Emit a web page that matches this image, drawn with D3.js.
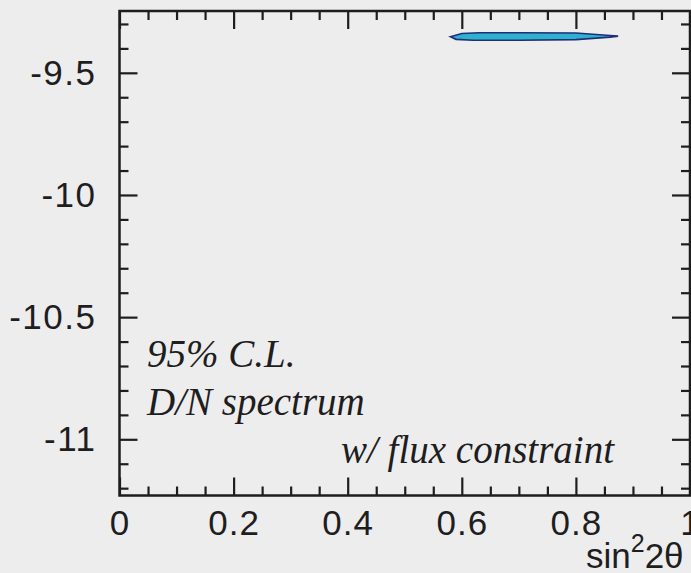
<!DOCTYPE html>
<html>
<head>
<meta charset="utf-8">
<script src="https://cdn.jsdelivr.net/npm/d3@7"></script>
<style>
html,body{margin:0;padding:0;background:#eeedee;}
svg{display:block;}
</style>
</head>
<body>
<svg id="chart" width="691" height="573"></svg>
<script>
// ---- data ----
const xDomain = [0, 1];
const yDomain = [-11.23, -9.247];
const xMajorTicks = [0, 0.2, 0.4, 0.6, 0.8, 1];
const xTickLabels = ["0", "0.2", "0.4", "0.6", "0.8", "1"];
const yMajorTicks = [-9.5, -10, -10.5, -11];
const yTickLabels = ["-9.5", "-10", "-10.5", "-11"];
// 95% C.L. contour (sin^2 2theta, log10 dm^2)
const contourX = [0.580, 0.600, 0.630, 0.700, 0.800, 0.830, 0.860, 0.874, 0.860, 0.830, 0.800, 0.700, 0.620, 0.590, 0.580];
const contourY = [-9.352, -9.339, -9.336, -9.336, -9.337, -9.342, -9.347, -9.350, -9.354, -9.359, -9.364, -9.367, -9.367, -9.363, -9.352];
const annotations = ["95% C.L.", "D/N spectrum", "w/ flux constraint"];

// ---- drawing ----
const svg = d3.select("#chart");
const x = d3.scaleLinear().domain(xDomain).range([119.5, 690]);
const y = d3.scaleLinear().domain(yDomain).range([495.5, 11]);
const ink = "#1e1e1e";

svg.append("rect").attr("width", 691).attr("height", 573).attr("fill", "#eeedee");

const xMinor = d3.range(0, 1.0001, 0.05).map(v => +v.toFixed(2)).filter(v => !xMajorTicks.some(m => Math.abs(m - v) < 1e-9));
const yMinor = d3.range(-11.2, -9.25, 0.1).map(v => +v.toFixed(1)).filter(v => !yMajorTicks.some(m => Math.abs(m - v) < 1e-9));

function styleAxis(g){
  g.select(".domain").remove();
  g.selectAll(".tick line").attr("stroke", ink).attr("stroke-width", 2.2);
}

// bottom major with labels
const gb = svg.append("g").attr("transform", `translate(0,${y.range()[0]})`)
  .call(d3.axisBottom(x).tickValues(xMajorTicks).tickSize(-18).tickPadding(0)
    .tickFormat((d,i) => xTickLabels[i]));
styleAxis(gb);
gb.selectAll(".tick text").attr("dy", null).attr("y", 39)
  .attr("font-family", "'Liberation Sans', Arial, sans-serif").attr("font-size", 35)
  .attr("letter-spacing", 1).attr("fill", ink);
svg.append("g").attr("transform", `translate(0,${y.range()[0]})`)
  .call(d3.axisBottom(x).tickValues(xMinor).tickSize(-9).tickFormat(""))
  .call(styleAxis);
// top
svg.append("g").attr("transform", `translate(0,${y.range()[1]})`)
  .call(d3.axisTop(x).tickValues(xMajorTicks).tickSize(-18).tickFormat(""))
  .call(styleAxis);
svg.append("g").attr("transform", `translate(0,${y.range()[1]})`)
  .call(d3.axisTop(x).tickValues(xMinor).tickSize(-9).tickFormat(""))
  .call(styleAxis);
// left major with labels
const gl = svg.append("g").attr("transform", `translate(${x.range()[0]},0)`)
  .call(d3.axisLeft(y).tickValues(yMajorTicks).tickSize(-18).tickPadding(24)
    .tickFormat((d,i) => yTickLabels[i]));
styleAxis(gl);
gl.selectAll(".tick text").attr("x", -23)
  .attr("font-family", "'Liberation Sans', Arial, sans-serif").attr("font-size", 35)
  .attr("letter-spacing", 1.5).attr("fill", ink);
svg.append("g").attr("transform", `translate(${x.range()[0]},0)`)
  .call(d3.axisLeft(y).tickValues(yMinor).tickSize(-9).tickFormat(""))
  .call(styleAxis);
// right
svg.append("g").attr("transform", `translate(${x.range()[1]},0)`)
  .call(d3.axisRight(y).tickValues(yMajorTicks).tickSize(-18).tickFormat(""))
  .call(styleAxis);
svg.append("g").attr("transform", `translate(${x.range()[1]},0)`)
  .call(d3.axisRight(y).tickValues(yMinor).tickSize(-9).tickFormat(""))
  .call(styleAxis);

// frame
svg.append("rect")
  .attr("x", x.range()[0]).attr("y", y.range()[1])
  .attr("width", x.range()[1] - x.range()[0]).attr("height", y.range()[0] - y.range()[1])
  .attr("fill", "none").attr("stroke", ink).attr("stroke-width", 2.5);

// contour
const pts = contourX.map((v, i) => [x(v), y(contourY[i])]);
svg.append("path")
  .attr("d", d3.line().curve(d3.curveLinearClosed)(pts.slice(0, -1)))
  .attr("fill", "#2fb0cf").attr("stroke", "#1c2f78").attr("stroke-width", 1.6);

// annotations
const serif = "'Liberation Serif', 'Times New Roman', serif";
svg.append("text").attr("x", 147).attr("y", 367).text(annotations[0])
  .attr("font-family", serif).attr("font-style", "italic").attr("font-size", 39).attr("fill", ink);
svg.append("text").attr("x", 147).attr("y", 415).text(annotations[1])
  .attr("font-family", serif).attr("font-style", "italic").attr("font-size", 39).attr("fill", ink);
svg.append("text").attr("x", 614).attr("y", 463).attr("text-anchor", "end").text(annotations[2])
  .attr("font-family", serif).attr("font-style", "italic").attr("font-size", 39).attr("fill", ink);

// x-axis title sin^2 2θ
const t = svg.append("text").attr("x", 586).attr("y", 568)
  .attr("font-family", "'Liberation Sans', Arial, sans-serif").attr("font-size", 35).attr("fill", ink);
t.append("tspan").text("sin");
t.append("tspan").attr("dy", -16).attr("font-size", 25).text("2");
t.append("tspan").attr("dy", 16).text("2θ");
</script>
</body>
</html>
